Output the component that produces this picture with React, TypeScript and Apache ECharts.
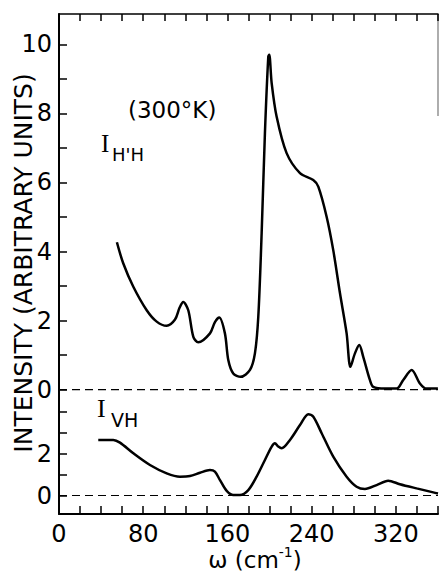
import React, { useEffect, useRef } from "react";
import * as echarts from "echarts";

const topW = [55, 61, 70.6, 83.3, 92.8, 102.3, 110.2, 114.5, 118, 122.8, 127.6, 132.3, 143.4, 148, 152.2, 157.6, 160.8, 165.5, 172.6, 181.4, 186.1, 189.3, 192.5, 195.6, 198.8, 199.7, 202, 206.7, 216.2, 228.9, 241.5, 246.3, 254.2, 260.5, 266.9, 273.2, 276.8, 281.1, 285.2, 289, 295.3, 298.5, 310, 320.7, 327, 335, 342.8, 349.2, 359.9];
const topI = [4.27, 3.66, 2.98, 2.3, 1.97, 1.85, 2.03, 2.37, 2.54, 2.3, 1.53, 1.37, 1.63, 1.95, 2.09, 1.63, 0.86, 0.47, 0.37, 0.57, 1.05, 2.11, 4.54, 7.43, 9.65, 9.7, 8.88, 7.91, 6.85, 6.27, 6.07, 5.88, 5.01, 4.04, 2.79, 1.63, 0.66, 1.05, 1.29, 0.95, 0.28, 0.08, 0.03, 0.03, 0.28, 0.57, 0.18, 0.03, 0.03];

const botW = [37.3, 51.6, 57.9, 70.6, 86.4, 102.3, 114.9, 124.4, 133.9, 143.4, 148.1, 152.9, 159.3, 165.6, 171.9, 179.8, 187.7, 195.6, 201.9, 205.1, 208.3, 211.5, 219.4, 228.9, 236.8, 241.6, 249.5, 260.5, 273.2, 282.7, 290.6, 301.7, 312.7, 323.8, 339.7, 355.5, 360];
const botI = [2.66, 2.66, 2.53, 2.02, 1.46, 1.06, 0.9, 0.93, 1.09, 1.22, 1.14, 0.74, 0.22, 0.02, 0.02, 0.26, 0.9, 1.7, 2.33, 2.5, 2.34, 2.26, 2.66, 3.37, 3.89, 3.77, 2.98, 1.86, 0.9, 0.42, 0.31, 0.5, 0.71, 0.54, 0.34, 0.15, 0.1];

const xRange = [0, 360];
const xLabels = [0, 80, 160, 240, 320];
const topYTicks = [0, 1, 2, 3, 4, 5, 6, 7, 8, 9, 10];
const topYLabels = [0, 2, 4, 6, 8, 10];
const botYTicks = [0, 1, 2, 3, 4];
const botYLabels = [0, 2];
const baseline = [0, 0];

const FONT = "DejaVu Sans";

export default function App() {
  const ref = useRef<HTMLDivElement>(null);
  useEffect(() => {
    document.body.style.margin = "0";
    const chart = echarts.init(ref.current!, null, { renderer: "svg" });
    const axisLineStyle = { color: "#000", width: 2 };
    const labelStyle = { color: "#000", fontFamily: FONT, fontSize: 24 };
    const dashed = (xi: number) => ({
      type: "line",
      xAxisIndex: xi,
      yAxisIndex: xi,
      data: xRange.map((x, i) => [x, baseline[i]]),
      showSymbol: false,
      silent: true,
      lineStyle: { color: "#000", type: [8, 5], width: 1.2 },
      z: 1,
    });
    chart.setOption({
      animation: false,
      backgroundColor: "#fff",
      grid: [
        { left: 59, right: 5, top: 14, height: 386 },
        { left: 59, right: 5, top: 400, height: 114 },
      ],
      xAxis: [
        {
          type: "value",
          gridIndex: 0,
          position: "top",
          min: xRange[0],
          max: xRange[1],
          interval: 20,
          axisLine: { show: true, onZero: false, lineStyle: { color: "#000", width: 1.5 } },
          axisTick: { show: true, inside: true, length: 7, lineStyle: { color: "#000", width: 1.5 } },
          axisLabel: { show: false },
          splitLine: { show: false },
        },
        {
          type: "value",
          gridIndex: 1,
          position: "bottom",
          min: xRange[0],
          max: xRange[1],
          interval: 20,
          axisLine: { show: true, onZero: false, lineStyle: axisLineStyle },
          axisTick: { show: true, inside: true, length: 8, lineStyle: { color: "#000", width: 1.5 } },
          axisLabel: {
            ...labelStyle,
            margin: 8,
            formatter: (v: number) => (xLabels.indexOf(v) >= 0 ? String(v) : ""),
          },
          splitLine: { show: false },
        },
      ],
      yAxis: [
        {
          type: "value",
          gridIndex: 0,
          min: -0.3,
          max: 10.88,
          axisLine: { show: true, onZero: false, lineStyle: axisLineStyle },
          axisTick: { show: true, inside: true, length: 8, customValues: topYTicks, lineStyle: { color: "#000", width: 1.5 } },
          axisLabel: { ...labelStyle, margin: 7, customValues: topYLabels },
          splitLine: { show: false },
        },
        {
          type: "value",
          gridIndex: 1,
          min: -0.885,
          max: 4.57,
          axisLine: { show: true, onZero: false, lineStyle: axisLineStyle },
          axisTick: { show: true, inside: true, length: 8, customValues: botYTicks, lineStyle: { color: "#000", width: 1.5 } },
          axisLabel: { ...labelStyle, margin: 7, customValues: botYLabels },
          splitLine: { show: false },
        },
      ],
      series: [
        dashed(0),
        dashed(1),
        {
          type: "line",
          name: "I_H'H",
          xAxisIndex: 0,
          yAxisIndex: 0,
          data: topW.map((w, i) => [w, topI[i]]),
          smooth: 0.3,
          showSymbol: false,
          lineStyle: { color: "#000", width: 2.5 },
          z: 3,
        },
        {
          type: "line",
          name: "I_VH",
          xAxisIndex: 1,
          yAxisIndex: 1,
          data: botW.map((w, i) => [w, botI[i]]),
          smooth: 0.3,
          showSymbol: false,
          lineStyle: { color: "#000", width: 2.5 },
          z: 3,
        },
      ],
      graphic: [
        {
          type: "line",
          shape: { x1: 438, y1: 14, x2: 438, y2: 116 },
          style: { stroke: "#777", lineWidth: 1.2 },
        },
        {
          type: "text",
          x: 23,
          y: 263,
          rotation: Math.PI / 2,
          style: {
            text: "INTENSITY (ARBITRARY UNITS)",
            font: `25px "${FONT}"`,
            fill: "#000",
            align: "center",
            verticalAlign: "middle",
          },
        },
        {
          type: "text",
          x: 128,
          y: 110,
          style: { text: "(300°K)", font: `23px "${FONT}"`, fill: "#000", align: "left", verticalAlign: "middle" },
        },
        {
          type: "text",
          x: 101,
          y: 156,
          style: { text: "I", font: `25px "Liberation Serif"`, fill: "#000", align: "left", verticalAlign: "bottom" },
        },
        {
          type: "text",
          x: 112,
          y: 163,
          style: { text: "H'H", font: `18px "${FONT}"`, fill: "#000", align: "left", verticalAlign: "bottom" },
        },
        {
          type: "text",
          x: 97,
          y: 421,
          style: { text: "I", font: `26px "Liberation Serif"`, fill: "#000", align: "left", verticalAlign: "bottom" },
        },
        {
          type: "text",
          x: 111,
          y: 429,
          style: { text: "VH", font: `19px "${FONT}"`, fill: "#000", align: "left", verticalAlign: "bottom" },
        },
        {
          type: "text",
          x: 255,
          y: 558,
          style: {
            text: "{a|ω (cm}{s|-1}{a|)}",
            align: "center",
            verticalAlign: "middle",
            rich: {
              a: { fontFamily: FONT, fontSize: 23, fill: "#000", verticalAlign: "bottom", lineHeight: 26 },
              s: { fontFamily: FONT, fontSize: 14, fill: "#000", verticalAlign: "top", lineHeight: 14 },
            },
          },
        },
      ],
    });
    return () => chart.dispose();
  }, []);
  return <div ref={ref} style={{ width: 443, height: 571 }} />;
}
